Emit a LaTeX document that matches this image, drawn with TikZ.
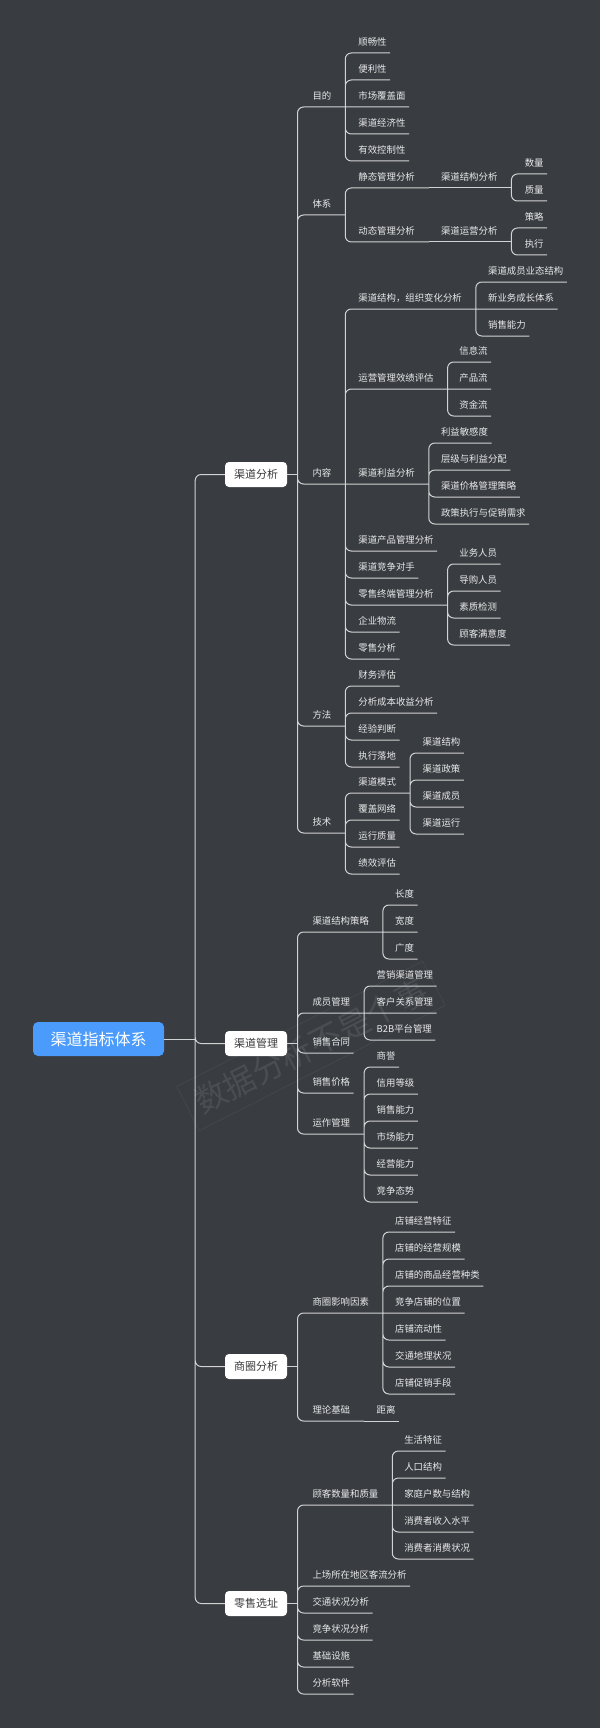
\documentclass[tikz,border=0pt]{standalone}
\usepackage{fontspec}
\setmainfont{Noto Sans CJK SC}
\usetikzlibrary{positioning, calc}

\definecolor{bgdark}{HTML}{393C40}
\definecolor{linegray}{HTML}{D2D3D5}
\definecolor{leaftext}{HTML}{E8E9EA}
\definecolor{boxtext}{HTML}{3A3A3A}
\definecolor{rootblue}{HTML}{4A9BFB}
\definecolor{wmark}{HTML}{4A4D52}

\begin{document}
\begin{tikzpicture}[
            x=1pt, y=-1pt,
            topic/.style={anchor=south west, inner xsep=3.4pt, inner ysep=5.2pt, text height=7pt, text depth=2pt, font=\fontsize{9.4}{11}\selectfont, text=leaftext},
            hub/.style={topic, execute at end node={\hspace*{10.4pt}}},
            branch/.style={rectangle, rounded corners=4pt, fill=white, text=boxtext, minimum width=62pt, minimum height=25pt, inner sep=0pt, font=\fontsize{11}{13}\selectfont},
            core/.style={rectangle, rounded corners=5pt, fill=rootblue, text=white, minimum width=131pt, minimum height=34pt, inner sep=0pt, font=\fontsize{16}{18}\selectfont},
            link/.style={draw=linegray, line width=1pt, rounded corners=6pt}
        ]
            % --- Canvas ---
            \fill[bgdark] (0,0) rectangle (600,1728);
            \useasboundingbox (0,0) rectangle (600,1728);
            \node[rotate=27, draw=wmark, text=wmark, font=\fontsize{32}{34}\selectfont, inner sep=10pt] (wm) at (311,1046) {数据分析不是个事};

            % --- Root and main branches ---
            \node[core] (root) at (98.5,1039) {渠道指标体系};
            \node[branch] (fenxi) at (256,474.5) {渠道分析};
            \node[branch] (guanli) at (256,1043.5) {渠道管理};
            \node[branch] (shangquan) at (256,1366.5) {商圈分析};
            \node[branch] (xuanzhi) at (256,1603.5) {零售选址};

            % --- 渠道分析 ---
            \node[hub] (mudi) at (308.9,107) {目的};
            \node[hub] (tixi) at (308.9,215) {体系};
            \node[hub] (neirong) at (308.9,484) {内容};
            \node[hub] (fangfa) at (308.9,726) {方法};
            \node[hub] (jishu) at (308.9,833) {技术};

            \node[topic] (mudi1) at (354.8,53) {顺畅性};
            \node[topic] (mudi2) at (354.8,80) {便利性};
            \node[topic] (mudi3) at (354.8,107) {市场覆盖面};
            \node[topic] (mudi4) at (354.8,134) {渠道经济性};
            \node[topic] (mudi5) at (354.8,161) {有效控制性};

            \node[hub] (tixi1) at (354.8,188) {静态管理分析};
            \node[hub] (tixi2) at (354.8,242) {动态管理分析};
            \node[hub] (jiegou) at (437.4,188) {渠道结构分析};
            \node[hub] (yunying) at (437.4,242) {渠道运营分析};
            \node[topic] (jiegou1) at (521.2,174) {数量};
            \node[topic] (jiegou2) at (521.2,201) {质量};
            \node[topic] (yunying1) at (521.2,228) {策略};
            \node[topic] (yunying2) at (521.2,255) {执行};

            \node[hub] (nr1) at (354.8,309) {渠道结构，组织变化分析};
            \node[hub] (nr2) at (354.8,389) {运营管理效绩评估};
            \node[hub] (nr3) at (354.8,484) {渠道利益分析};
            \node[topic] (nr4) at (354.8,551) {渠道产品管理分析};
            \node[topic] (nr5) at (354.8,578) {渠道竞争对手};
            \node[hub] (nr6) at (354.8,605) {零售终端管理分析};
            \node[topic] (nr7) at (354.8,632) {企业物流};
            \node[topic] (nr8) at (354.8,659) {零售分析};

            \node[topic] (nr11) at (484.5,282) {渠道成员业态结构};
            \node[topic] (nr12) at (484.5,309) {新业务成长体系};
            \node[topic] (nr13) at (484.5,336) {销售能力};
            \node[topic] (nr21) at (455.8,362) {信息流};
            \node[topic] (nr22) at (455.8,389) {产品流};
            \node[topic] (nr23) at (455.8,416) {资金流};
            \node[topic] (nr31) at (437.4,443) {利益敏感度};
            \node[topic] (nr32) at (437.4,470) {层级与利益分配};
            \node[topic] (nr33) at (437.4,497) {渠道价格管理策略};
            \node[topic] (nr34) at (437.4,524) {政策执行与促销需求};
            \node[topic] (nr61) at (455.8,564) {业务人员};
            \node[topic] (nr62) at (455.8,591) {导购人员};
            \node[topic] (nr63) at (455.8,618) {素质检测};
            \node[topic] (nr64) at (455.8,645) {顾客满意度};

            \node[topic] (ff1) at (354.8,686) {财务评估};
            \node[topic] (ff2) at (354.8,713) {分析成本收益分析};
            \node[topic] (ff3) at (354.8,740) {经验判断};
            \node[topic] (ff4) at (354.8,767) {执行落地};

            \node[hub] (js1) at (354.8,793) {渠道模式};
            \node[topic] (js2) at (354.8,820) {覆盖网络};
            \node[topic] (js3) at (354.8,847) {运行质量};
            \node[topic] (js4) at (354.8,874) {绩效评估};
            \node[topic] (js11) at (419.1,753) {渠道结构};
            \node[topic] (js12) at (419.1,780) {渠道政策};
            \node[topic] (js13) at (419.1,807) {渠道成员};
            \node[topic] (js14) at (419.1,834) {渠道运行};

            % --- 渠道管理 ---
            \node[hub] (gl1) at (308.9,932) {渠道结构策略};
            \node[hub] (gl2) at (308.9,1013) {成员管理};
            \node[topic] (gl3) at (308.9,1053) {销售合同};
            \node[topic] (gl4) at (308.9,1093) {销售价格};
            \node[hub] (gl5) at (308.9,1134) {运作管理};

            \node[topic] (gl11) at (391.5,905) {长度};
            \node[topic] (gl12) at (391.5,932) {宽度};
            \node[topic] (gl13) at (391.5,959) {广度};
            \node[topic] (gl21) at (373.1,986) {营销渠道管理};
            \node[topic] (gl22) at (373.1,1013) {客户关系管理};
            \node[topic] (gl23) at (373.1,1040) {B2B平台管理};
            \node[topic] (gl51) at (373.1,1067) {商誉};
            \node[topic] (gl52) at (373.1,1094) {信用等级};
            \node[topic] (gl53) at (373.1,1121) {销售能力};
            \node[topic] (gl54) at (373.1,1148) {市场能力};
            \node[topic] (gl55) at (373.1,1175) {经营能力};
            \node[topic] (gl56) at (373.1,1202) {竞争态势};

            % --- 商圈分析 ---
            \node[hub] (sq1) at (308.9,1313) {商圈影响因素};
            \node[hub] (sq2) at (308.9,1421) {理论基础};
            \node[topic] (sq11) at (391.5,1232) {店铺经营特征};
            \node[topic] (sq12) at (391.5,1259) {店铺的经营规模};
            \node[topic] (sq13) at (391.5,1286) {店铺的商品经营种类};
            \node[topic] (sq14) at (391.5,1313) {竞争店铺的位置};
            \node[topic] (sq15) at (391.5,1340) {店铺流动性};
            \node[topic] (sq16) at (391.5,1367) {交通地理状况};
            \node[topic] (sq17) at (391.5,1394) {店铺促销手段};
            \node[topic] (sq21) at (373.1,1421) {距离};

            % --- 零售选址 ---
            \node[hub] (xz1) at (308.9,1505) {顾客数量和质量};
            \node[topic] (xz2) at (308.9,1586) {上场所在地区客流分析};
            \node[topic] (xz3) at (308.9,1613) {交通状况分析};
            \node[topic] (xz4) at (308.9,1640) {竞争状况分析};
            \node[topic] (xz5) at (308.9,1667) {基础设施};
            \node[topic] (xz6) at (308.9,1694) {分析软件};
            \node[topic] (xz11) at (400.7,1451) {生活特征};
            \node[topic] (xz12) at (400.7,1478) {人口结构};
            \node[topic] (xz13) at (400.7,1505) {家庭户数与结构};
            \node[topic] (xz14) at (400.7,1532) {消费者收入水平};
            \node[topic] (xz15) at (400.7,1559) {消费者消费状况};

            % --- Trunk ---
            \draw[link] (root.east) -- ++(31,0) coordinate (trunk);
            \draw[link] (trunk) |- (fenxi.west) (trunk) |- (guanli.west) (trunk) |- (shangquan.west) (trunk) |- (xuanzhi.west);

            \draw[link] (fenxi.east) -- ++(10.3,0) coordinate (fenxi-hub);
            \draw[link] (guanli.east) -- ++(10.3,0) coordinate (guanli-hub);
            \draw[link] (shangquan.east) -- ++(10.3,0) coordinate (shangquan-hub);
            \draw[link] (xuanzhi.east) -- ++(10.3,0) coordinate (xuanzhi-hub);

            % --- Links: 渠道分析 ---
            \draw[link] (fenxi-hub) |- (mudi.south east) (fenxi-hub) |- (tixi.south east) (fenxi-hub) |- (neirong.south east) (fenxi-hub) |- (fangfa.south east) (fenxi-hub) |- (jishu.south east);
            \draw[link] (mudi.south east) |- (mudi1.south east) (mudi.south east) |- (mudi2.south east) (mudi.south east) -- (mudi3.south east) (mudi.south east) |- (mudi4.south east) (mudi.south east) |- (mudi5.south east);
            \draw[link] (tixi.south east) |- (tixi1.south east) (tixi.south east) |- (tixi2.south east);
            \draw[link] (tixi1.south east) -- (jiegou.south east) (tixi2.south east) -- (yunying.south east);
            \draw[link] (jiegou.south east) |- (jiegou1.south east) (jiegou.south east) |- (jiegou2.south east);
            \draw[link] (yunying.south east) |- (yunying1.south east) (yunying.south east) |- (yunying2.south east);

            \draw[link] (neirong.south east) |- (nr1.south east) (neirong.south east) |- (nr2.south east) (neirong.south east) -- (nr3.south east) (neirong.south east) |- (nr4.south east) (neirong.south east) |- (nr5.south east) (neirong.south east) |- (nr6.south east) (neirong.south east) |- (nr7.south east) (neirong.south east) |- (nr8.south east);
            \draw[link] (nr1.south east) |- (nr11.south east) (nr1.south east) -- (nr12.south east) (nr1.south east) |- (nr13.south east);
            \draw[link] (nr2.south east) |- (nr21.south east) (nr2.south east) -- (nr22.south east) (nr2.south east) |- (nr23.south east);
            \draw[link] (nr3.south east) |- (nr31.south east) (nr3.south east) |- (nr32.south east) (nr3.south east) |- (nr33.south east) (nr3.south east) |- (nr34.south east);
            \draw[link] (nr6.south east) |- (nr61.south east) (nr6.south east) |- (nr62.south east) (nr6.south east) |- (nr63.south east) (nr6.south east) |- (nr64.south east);

            \draw[link] (fangfa.south east) |- (ff1.south east) (fangfa.south east) |- (ff2.south east) (fangfa.south east) |- (ff3.south east) (fangfa.south east) |- (ff4.south east);
            \draw[link] (jishu.south east) |- (js1.south east) (jishu.south east) |- (js2.south east) (jishu.south east) |- (js3.south east) (jishu.south east) |- (js4.south east);
            \draw[link] (js1.south east) |- (js11.south east) (js1.south east) |- (js12.south east) (js1.south east) |- (js13.south east) (js1.south east) |- (js14.south east);

            % --- Links: 渠道管理 ---
            \draw[link] (guanli-hub) |- (gl1.south east) (guanli-hub) |- (gl2.south east) (guanli-hub) |- (gl3.south east) (guanli-hub) |- (gl4.south east) (guanli-hub) |- (gl5.south east);
            \draw[link] (gl1.south east) |- (gl11.south east) (gl1.south east) -- (gl12.south east) (gl1.south east) |- (gl13.south east);
            \draw[link] (gl2.south east) |- (gl21.south east) (gl2.south east) -- (gl22.south east) (gl2.south east) |- (gl23.south east);
            \draw[link] (gl5.south east) |- (gl51.south east) (gl5.south east) |- (gl52.south east) (gl5.south east) |- (gl53.south east) (gl5.south east) |- (gl54.south east) (gl5.south east) |- (gl55.south east) (gl5.south east) |- (gl56.south east);

            % --- Links: 商圈分析 ---
            \draw[link] (shangquan-hub) |- (sq1.south east) (shangquan-hub) |- (sq2.south east);
            \draw[link] (sq1.south east) |- (sq11.south east) (sq1.south east) |- (sq12.south east) (sq1.south east) |- (sq13.south east) (sq1.south east) -- (sq14.south east) (sq1.south east) |- (sq15.south east) (sq1.south east) |- (sq16.south east) (sq1.south east) |- (sq17.south east);
            \draw[link] (sq2.south east) -- (sq21.south east);

            % --- Links: 零售选址 ---
            \draw[link] (xuanzhi-hub) |- (xz1.south east) (xuanzhi-hub) |- (xz2.south east) (xuanzhi-hub) |- (xz3.south east) (xuanzhi-hub) |- (xz4.south east) (xuanzhi-hub) |- (xz5.south east) (xuanzhi-hub) |- (xz6.south east);
            \draw[link] (xz1.south east) |- (xz11.south east) (xz1.south east) |- (xz12.south east) (xz1.south east) -- (xz13.south east) (xz1.south east) |- (xz14.south east) (xz1.south east) |- (xz15.south east);

        \end{tikzpicture}
\end{document}
